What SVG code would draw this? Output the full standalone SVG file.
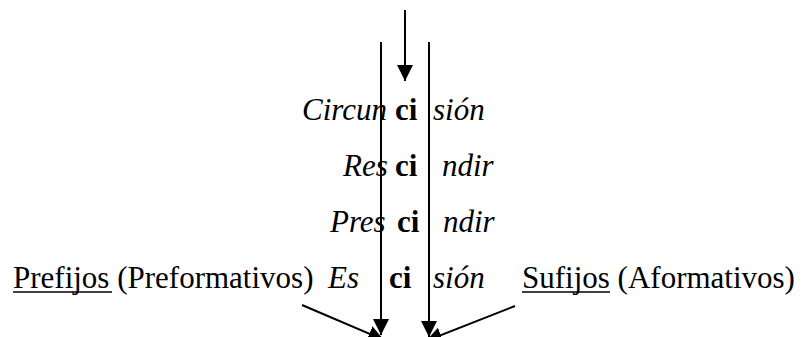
<svg xmlns="http://www.w3.org/2000/svg" width="801" height="337" viewBox="0 0 801 337">
<defs>
<style>
.t{font-family:'Liberation Serif', 'Times New Roman', serif;font-size:31px;fill:#000}
.it{font-style:italic}
.b{font-weight:bold}
.ln{stroke:#000;stroke-width:2;fill:none}
.ul{stroke:#000;stroke-width:1.6}
</style>
<marker id="ah" viewBox="0 0 16 16" refX="16" refY="8" markerWidth="16" markerHeight="16" markerUnits="userSpaceOnUse" orient="auto">
<path d="M0,0 L16,8 L0,16 Z" fill="#000"/>
</marker>
</defs>
<rect width="801" height="337" fill="#fff"/>
<g id="connectors">
<line class="ln" x1="405" y1="10" x2="405" y2="81" marker-end="url(#ah)"/>
<line class="ln" x1="381" y1="42" x2="381" y2="335" marker-end="url(#ah)"/>
<line class="ln" x1="429" y1="42" x2="429" y2="337" marker-end="url(#ah)"/>
<line class="ln" x1="302" y1="305" x2="384" y2="340" marker-end="url(#ah)"/>
<line class="ln" x1="515" y1="306" x2="426" y2="341" marker-end="url(#ah)"/>
</g>
<g id="row1">
<text x="302" y="120" class="t it">Circun</text>
<text x="395" y="120" class="t b">ci</text>
<text x="433" y="120" class="t it">sión</text>
</g>
<g id="row2">
<text x="343" y="176" class="t it">Res</text>
<text x="395" y="176" class="t b">ci</text>
<text x="442" y="176" class="t it">ndir</text>
</g>
<g id="row3">
<text x="330" y="232" class="t it">Pres</text>
<text x="397" y="232" class="t b">ci</text>
<text x="443" y="232" class="t it">ndir</text>
</g>
<g id="row4">
<text x="328" y="288" class="t it">Es</text>
<text x="389" y="288" class="t b">ci</text>
<text x="433" y="288" class="t it">sión</text>
</g>
<g id="prefijos">
<text x="13" y="288" class="t">Prefijos (Preformativos)</text>
<line class="ul" x1="13" y1="292" x2="112" y2="292"/>
</g>
<g id="sufijos">
<text x="522" y="288" class="t">Sufijos (Aformativos)</text>
<line class="ul" x1="522" y1="292" x2="610" y2="292"/>
</g>
</svg>
